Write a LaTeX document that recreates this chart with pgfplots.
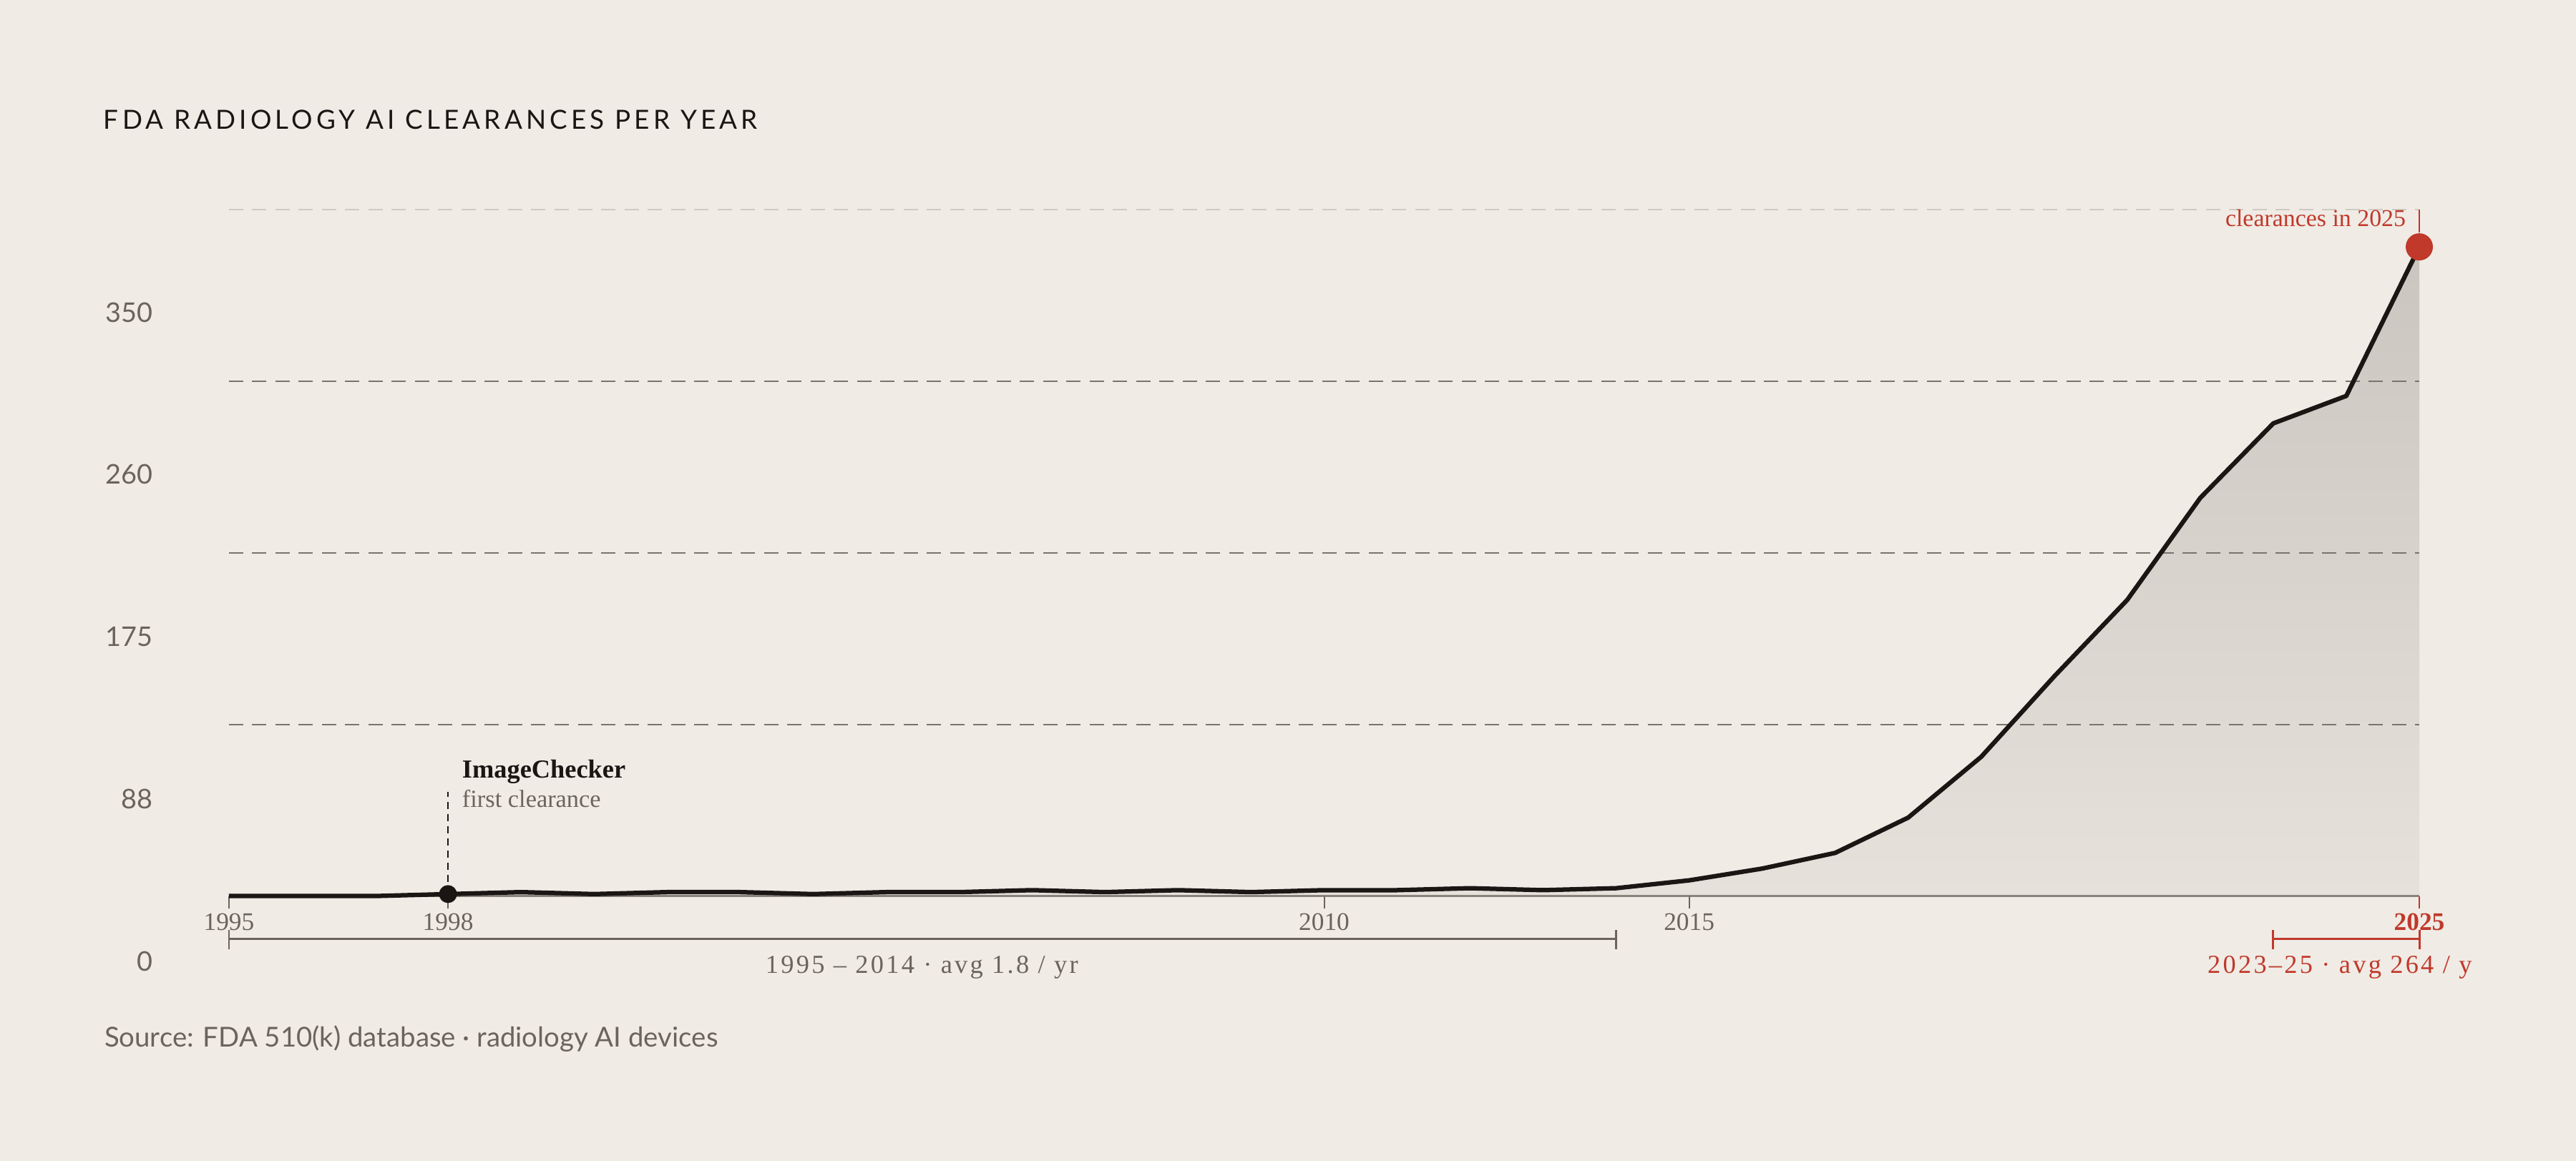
\documentclass[border=0pt]{standalone}
\usepackage{pgfplots}
\usepackage{pgfplotstable}
\pgfplotsset{compat=1.18}
\usepackage{fontspec}
\setmainfont{Liberation Serif}
\newfontfamily\sans{Lato}
\newfontfamily\titlefont[LetterSpace=14]{Lato}
\newfontfamily\spaced[LetterSpace=9]{Liberation Serif}

\definecolor{bg}{HTML}{F0EBE5}
\definecolor{ink}{HTML}{1A1613}
\definecolor{mute}{HTML}{6B645E}
\definecolor{accent}{HTML}{C0392B}
\definecolor{gridc}{HTML}{7A746E}
\definecolor{gridl}{HTML}{CFC9C3}
\definecolor{filltop}{HTML}{CBC5BF}
\definecolor{fillbot}{HTML}{E6E1DB}
\definecolor{axisc}{HTML}{8A847E}

% clearances per year
\pgfplotstableread{
year n
1995 0
1996 0
1997 0
1998 1
1999 2
2000 1
2001 2
2002 2
2003 1
2004 2
2005 2
2006 3
2007 2
2008 3
2009 2
2010 3
2011 3
2012 4
2013 3
2014 4
2015 8
2016 14
2017 22
2018 40
2019 71
2020 112
2021 151
2022 203
2023 241
2024 255
2025 331
}\clearances

\begin{document}
\begin{tikzpicture}
\fill[bg] (-64bp,-74.08bp) rectangle (656bp,250.52bp);
\useasboundingbox (-64bp,-74.08bp) rectangle (656bp,250.52bp);
\begin{axis}[
    at={(0,0)}, anchor=south west,
    scale only axis,
    width=612.2bp, height=191.92bp,
    xmin=1995, xmax=2025,
    ymin=0, ymax=350,
    hide axis,
    clip=false,
]
% area under the curve
\addplot[draw=none, top color=filltop, bottom color=fillbot]
    table[x=year, y=n] {\clearances} \closedcycle;

% grid
\addplot[gridl, line width=0.4bp, dash pattern=on 4bp off 2.5bp] coordinates {(1995,350) (2025,350)};
\addplot[gridc, line width=0.4bp, dash pattern=on 4bp off 2.5bp] coordinates {(1995,262.5) (2025,262.5)};
\addplot[gridc, line width=0.4bp, dash pattern=on 4bp off 2.5bp] coordinates {(1995,175) (2025,175)};
\addplot[gridc, line width=0.4bp, dash pattern=on 4bp off 2.5bp] coordinates {(1995,87.5) (2025,87.5)};

% baseline and ticks
\addplot[axisc, line width=0.45bp] coordinates {(1995,0) (2025,0)};
\draw[mute, line width=0.4bp] (axis cs:1995,0) -- (axis cs:1995,-6.35);
\draw[mute, line width=0.4bp] (axis cs:1998,0) -- (axis cs:1998,-6.35);
\draw[mute, line width=0.4bp] (axis cs:2010,0) -- (axis cs:2010,-6.35);
\draw[mute, line width=0.4bp] (axis cs:2015,0) -- (axis cs:2015,-6.35);
\draw[accent, line width=0.5bp] (axis cs:2025,0) -- (axis cs:2025,-6.35);

\begin{scope}[font=\fontsize{7.1}{8}\selectfont]
\node[anchor=base, text=mute] at (axis cs:1995,-17.3) {1995};
\node[anchor=base, text=mute] at (axis cs:1998,-17.3) {1998};
\node[anchor=base, text=mute] at (axis cs:2010,-17.3) {2010};
\node[anchor=base, text=mute] at (axis cs:2015,-17.3) {2015};
\node[anchor=base, text=accent, font=\fontsize{7.1}{8}\selectfont\bfseries] at (axis cs:2025,-17.3) {2025};
\end{scope}

% range brackets
\draw[mute, line width=0.55bp] (axis cs:1995,-17.3) -- (axis cs:1995,-27.2)
    (axis cs:1995,-21.8) -- (axis cs:2014,-21.8)
    (axis cs:2014,-17.3) -- (axis cs:2014,-27.2);
\node[anchor=base, text=mute, font=\spaced\fontsize{7.3}{8}\selectfont]
    at (axis cs:2004.49,-39.2) {1995 – 2014 · avg 1.8 / yr};
\draw[accent, line width=0.6bp] (axis cs:2023,-17.3) -- (axis cs:2023,-27.2)
    (axis cs:2023,-21.8) -- (axis cs:2025,-21.8)
    (axis cs:2025,-17.3) -- (axis cs:2025,-27.2);
\node[anchor=base, text=accent, font=\spaced\fontsize{7.3}{8}\selectfont]
    at (axis cs:2023.91,-39.2) {2023–25 · avg 264 / y};

% the series
\addplot[ink, line width=1.25bp, line join=round] table[x=year, y=n] {\clearances};

% first clearance
\draw[ink, line width=0.4bp, dash pattern=on 2bp off 1.4bp] (axis cs:1998,1) -- (axis cs:1998,53.1);
\addplot[only marks, mark=*, mark size=2.3bp, ink] coordinates {(1998,1)};
\node[anchor=base west, inner sep=0pt, text=ink, font=\fontsize{7.3}{8}\selectfont\bfseries]
    at (axis cs:1998.185,60.4) {ImageChecker};
\node[anchor=base west, inner sep=0pt, text=mute, font=\fontsize{6.9}{8}\selectfont]
    at (axis cs:1998.185,45.4) {first clearance};

% 2025 callout
\draw[accent, line width=0.5bp] (axis cs:2025,350) -- (axis cs:2025,338.3);
\addplot[only marks, mark=*, mark size=3.6bp, accent] coordinates {(2025,331)};
\node[anchor=base east, inner sep=0pt, text=accent, font=\fontsize{6.8}{8}\selectfont]
    at (axis cs:2024.824,341.6) {clearances in 2025};

% y labels
\begin{scope}[font=\sans\fontsize{7.6}{8}\selectfont]
\node[anchor=base east, inner sep=0pt, text=mute] at (axis cs:1993.961,292.7) {350};
\node[anchor=base east, inner sep=0pt, text=mute] at (axis cs:1993.961,210.0) {260};
\node[anchor=base east, inner sep=0pt, text=mute] at (axis cs:1993.961,127.3) {175};
\node[anchor=base east, inner sep=0pt, text=mute] at (axis cs:1993.961,44.6) {88};
\node[anchor=base east, inner sep=0pt, text=mute] at (axis cs:1993.961,-38.1) {0};
\end{scope}

% title and source
\node[anchor=base west, inner sep=0pt, text=ink, font=\titlefont\fontsize{7.4}{8}\selectfont]
    at (axis cs:1993.275,390.9) {FDA RADIOLOGY AI CLEARANCES PER YEAR};
\node[anchor=base west, inner sep=0pt, text=mute, font=\sans\fontsize{7.7}{8}\selectfont]
    at (axis cs:1993.285,-76.8) {Source: FDA 510(k) database · radiology AI devices};
\end{axis}
\end{tikzpicture}
\end{document}
